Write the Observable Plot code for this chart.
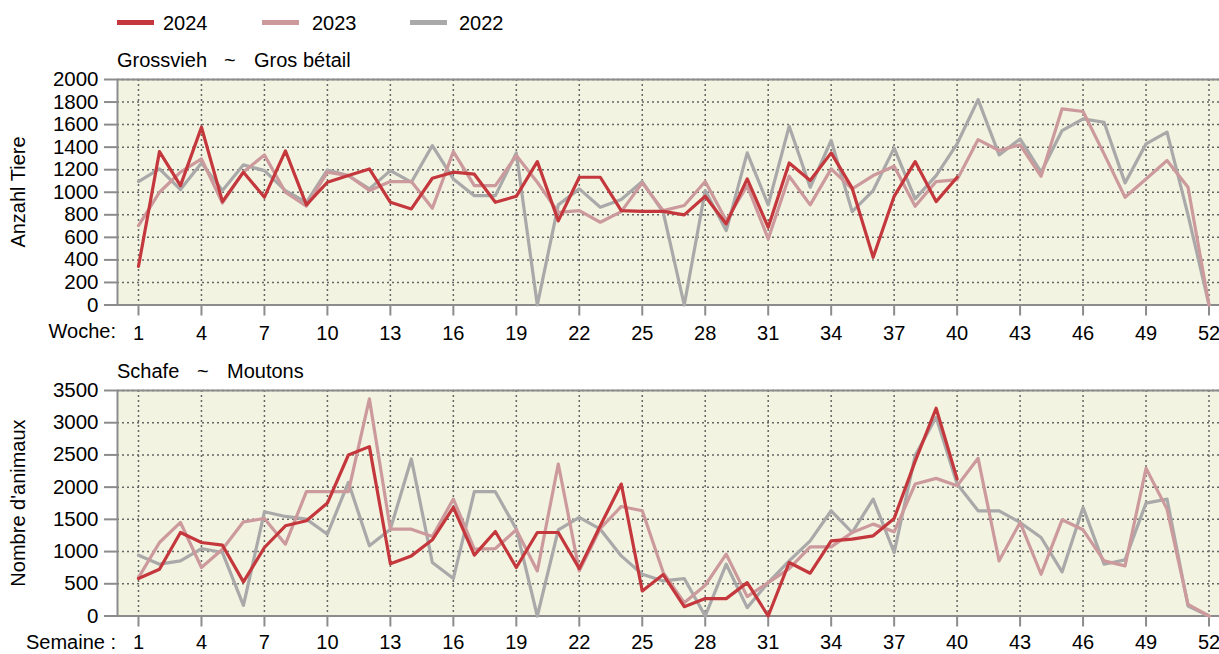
<!DOCTYPE html>
<html>
<head>
<meta charset="utf-8">
<script src="https://cdn.jsdelivr.net/npm/d3@7"></script>
<script src="https://cdn.jsdelivr.net/npm/@observablehq/plot@0.6"></script>
<style>
  html, body { margin: 0; padding: 0; background: #fff; }
  #root { position: relative; width: 1219px; height: 654px; font-family: "Liberation Sans", Arial, sans-serif; color: #000; overflow: hidden; }
  .abs { position: absolute; white-space: pre; font-size: 20px; line-height: 20px; }
  .sw { position: absolute; height: 5px; }
  .plot { position: absolute; left: 0; }
</style>
</head>
<body>
<div id="root"></div>
<script>
// ---- data ----
const weeks = [1,2,3,4,5,6,7,8,9,10,11,12,13,14,15,16,17,18,19,20,21,22,23,24,25,26,27,28,29,30,31,32,33,34,35,36,37,38,39,40,41,42,43,44,45,46,47,48,49,50,51,52];
const weekTicks = [1,4,7,10,13,16,19,22,25,28,31,34,37,40,43,46,49,52];
const years = ["2024", "2023", "2022"];
const yearColors = ["#c4373d", "#cc9a9c", "#a9a9a9"];

// Grossvieh ~ Gros bétail
const gv2024 = [343,1361,1059,1577,917,1178,956,1367,888,1089,1148,1207,911,852,1124,1178,1160,911,964,1272,746,1133,1133,837,831,831,799,964,719,1118,689,1260,1104,1349,1036,423,964,1272,917,1133];
const gv2023 = [704,1000,1178,1296,905,1180,1331,1000,876,1178,1148,1015,1095,1095,858,1361,1059,1059,1325,1089,822,837,734,828,1083,837,882,1095,749,1059,586,1142,888,1207,1030,1148,1231,876,1095,1112,1467,1370,1420,1142,1740,1716,1340,956,1118,1281,1044,0];
const gv2022 = [1095,1207,1024,1260,1015,1243,1192,1015,911,1198,1148,1030,1192,1089,1414,1118,970,970,1349,0,888,1030,867,935,1095,822,0,1015,660,1349,888,1586,1044,1459,828,1015,1391,941,1148,1430,1822,1331,1473,1178,1547,1651,1621,1083,1429,1533,800,0];
const gvTicks = [0,200,400,600,800,1000,1200,1400,1600,1800,2000];

// Schafe ~ Moutons
const sh2024 = [581,726,1296,1141,1099,529,1063,1400,1478,1753,2499,2629,810,933,1182,1685,944,1312,752,1296,1296,736,1400,2048,389,643,145,270,270,518,0,830,664,1167,1193,1244,1514,2400,3225,2126];
const sh2023 = [596,1141,1452,752,1037,1462,1514,1115,1929,1929,1929,3370,1348,1348,1234,1815,1037,1047,1338,700,2359,700,1358,1700,1633,674,207,477,959,301,518,736,1073,1073,1296,1426,1307,2048,2136,2020,2447,856,1452,648,1493,1338,856,778,2292,1659,181,0];
const sh2022 = [944,804,856,1047,985,166,1618,1545,1504,1270,2074,1089,1348,2437,830,581,1929,1929,1348,0,1338,1530,1348,933,648,544,581,0,804,130,518,856,1167,1633,1296,1815,985,2489,3085,2050,1633,1633,1452,1219,684,1685,804,871,1753,1815,156,0];
const shTicks = [0,500,1000,1500,2000,2500,3000,3500];

// ---- helpers ----
const toRows = (vals) => vals.map((v, i) => ({week: weeks[i], value: v}));
const BG = "#f3f3e1";
const FRAME = "#8c8c8c";
const GRID = {stroke: "#666", strokeOpacity: 1, strokeDasharray: "2,3", strokeWidth: 1.5};

function chart(series, yTicks, yMax, height, marginTop, marginBottom, xPad) {
  return Plot.plot({
    width: 1219, height, marginLeft: 117, marginRight: 0, marginTop, marginBottom,
    style: {fontSize: "20px", fontFamily: "'Liberation Sans', Arial, sans-serif", background: "transparent", color: "#000", overflow: "visible"},
    x: {domain: [0, 52.5]},
    y: {domain: [0, yMax]},
    marks: [
      Plot.frame({fill: BG, stroke: null}),
      Plot.gridY(yTicks, GRID),
      Plot.gridX(weekTicks, GRID),
      Plot.ruleX([0], {stroke: FRAME, strokeWidth: 2}),
      Plot.ruleY([0, yMax], {stroke: FRAME, strokeWidth: 2}),
      Plot.axisY(yTicks, {tickSize: 13, tickPadding: 6, stroke: FRAME, strokeWidth: 2, fill: "#000", fontSize: 20.5, label: null, tickFormat: d => String(d)}),
      Plot.axisX(weekTicks, {tickSize: 11, tickPadding: xPad, stroke: FRAME, strokeWidth: 2, fill: "#000", fontSize: 20, label: null, tickFormat: d => String(d)}),
      Plot.line(toRows(series[2]), {x: "week", y: "value", stroke: yearColors[2], strokeWidth: 3.2}),
      Plot.line(toRows(series[1]), {x: "week", y: "value", stroke: yearColors[1], strokeWidth: 3.2}),
      Plot.line(toRows(series[0]), {x: "week", y: "value", stroke: yearColors[0], strokeWidth: 3.2})
    ]
  });
}

const root = document.getElementById("root");

const p1 = chart([gv2024, gv2023, gv2022], gvTicks, 2000, 340, 79, 35.5, 10);
p1.classList.add("plot"); p1.style.top = "0px";
root.appendChild(p1);

const p2 = chart([sh2024, sh2023, sh2022], shTicks, 3500, 314, 50, 38.5, 8);
p2.classList.add("plot"); p2.style.top = "340px";
root.appendChild(p2);

function addText(text, left, top, extra) {
  const d = document.createElement("div");
  d.className = "abs";
  d.textContent = text;
  d.style.left = left + "px";
  d.style.top = top + "px";
  if (extra) Object.assign(d.style, extra);
  root.appendChild(d);
  return d;
}

// legend
const legendX = [[117, 163], [262, 312], [410, 459]];
years.forEach((y, i) => {
  const s = document.createElement("div");
  s.className = "sw";
  s.style.left = legendX[i][0] + "px";
  s.style.top = "20px";
  s.style.width = "37px";
  s.style.background = yearColors[i];
  root.appendChild(s);
  addText(y, legendX[i][1], 13);
});

// titles
addText("Grossvieh", 117, 50);
addText("~", 224, 50);
addText("Gros bétail", 254, 50);
addText("Schafe", 117, 361);
addText("~", 197, 361);
addText("Moutons", 227, 361);

// x-axis prefixes
addText("Woche:", 0, 321, {width: "116px", textAlign: "right"});
addText("Semaine :", 0, 633, {width: "116px", textAlign: "right", lineHeight: "19px"});

// y-axis labels (rotated)
addText("Anzahl Tiere", 18 - 100, 192 - 10, {width: "200px", textAlign: "center", transform: "rotate(-90deg)", transformOrigin: "100px 10px"});
addText("Nombre d'animaux", 18 - 100, 503 - 10, {width: "200px", textAlign: "center", transform: "rotate(-90deg)", transformOrigin: "100px 10px"});
</script>
</body>
</html>
